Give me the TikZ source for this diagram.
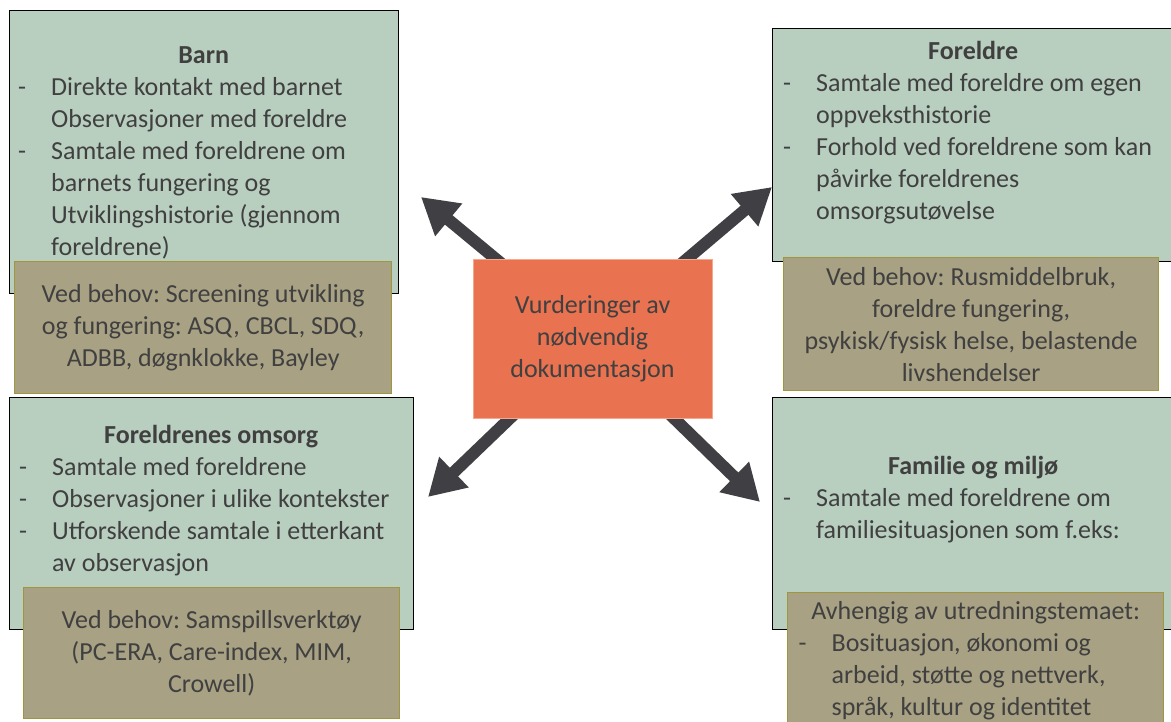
\documentclass[tikz,border=0pt]{standalone}
\usepackage{fontspec}
\setmainfont{Carlito}
\usetikzlibrary{arrows.meta}
\pgfdeclarelayer{background}
\pgfsetlayers{background,main}
\frenchspacing

\definecolor{gronn}{RGB}{184,206,191}
\definecolor{brun}{RGB}{168,161,131}
\definecolor{brunkant}{RGB}{160,150,62}
\definecolor{oransje}{RGB}{233,114,80}
\definecolor{oransjekant}{RGB}{246,168,140}
\definecolor{pilfarge}{RGB}{64,63,67}
\definecolor{tekst}{RGB}{64,64,64}

\newcommand{\tittel}[1]{{\centering\bfseries #1\par}}
\newcommand{\punkt}[1]{\par\hangindent=33pt\hangafter=1\noindent\makebox[33pt][l]{-}#1\par}

\begin{document}
\begin{tikzpicture}[
    x=1pt, y=-1pt,
    every node/.style={font=\fontsize{26}{32}\selectfont\frenchspacing, text=tekst},
    omrade/.style={rectangle, draw=black, line width=1.3pt, fill=gronn, anchor=north west, inner sep=0pt},
    liste/.style={anchor=north west, inner sep=0pt, text width=#1, align=flush left},
    behov/.style={rectangle, draw=brunkant, line width=1.3pt, fill=brun, anchor=north west, align=center},
    sentral/.style={rectangle, draw=oransjekant, line width=1pt, fill=oransje, align=center},
    arrow/.style={draw=pilfarge, line width=12pt, -{Triangle[length=36pt, width=40pt]}}
]
\clip (0,0) rectangle (1171,722);

% green boxes
\node[omrade, minimum width=389pt, minimum height=283pt] (barn) at (9,10) {};
\node[omrade, minimum width=403pt, minimum height=233pt] (foreldre) at (772,28) {};
\node[omrade, minimum width=404pt, minimum height=232pt] (omsorg) at (9,397) {};
\node[omrade, minimum width=403pt, minimum height=232pt] (familie) at (772,397) {};

% texts in green boxes
\node[liste=371pt] (barntxt) at (18,46) {\tittel{Barn}%
  \punkt{Direkte kontakt med barnet\newline Observasjoner med foreldre}%
  \punkt{Samtale med foreldrene om\newline barnets fungering og\newline Utviklingshistorie (gjennom\newline foreldrene)}};
\node[liste=380pt] (foreldretxt) at (783,41) {\tittel{Foreldre}%
  \punkt{Samtale med foreldre om egen\newline oppveksthistorie}%
  \punkt{Forhold ved foreldrene som kan\newline påvirke foreldrenes\newline omsorgsutøvelse}};
\node[liste=384pt] (omsorgtxt) at (19,425) {\tittel{Foreldrenes omsorg}%
  \punkt{Samtale med foreldrene}%
  \punkt{Observasjoner i ulike kontekster}%
  \punkt{Utforskende samtale i etterkant\newline av observasjon}};
\node[liste=380pt] (familietxt) at (783,456) {\tittel{Familie og miljø}%
  \punkt{Samtale med foreldrene om\newline familiesituasjonen som f.eks:}};

% tan boxes
\node[behov, minimum width=377pt, minimum height=132pt] (barnbehov) at (14,261)
  {Ved behov: Screening utvikling\\og fungering: ASQ, CBCL, SDQ,\\ADBB, døgnklokke, Bayley};
\node[behov, minimum width=375pt, minimum height=133pt] (foreldrebehov) at (783,257)
  {Ved behov: Rusmiddelbruk,\\foreldre fungering,\\psykisk/fysisk helse, belastende\\livshendelser};
\node[behov, minimum width=376pt, minimum height=131pt] (omsorgbehov) at (23,587)
  {Ved behov: Samspillsverktøy\\(PC-ERA, Care-index, MIM,\\Crowell)};
\node[behov, align=flush left, text width=354pt, inner xsep=11pt, inner ysep=9pt] (familiebehov) at (787,592)
  {{\centering Avhengig av utredningstemaet:\par}%
  \punkt{Bosituasjon, økonomi og\newline arbeid, støtte og nettverk,\newline språk, kultur og identitet}};

% centre
\node[sentral, minimum width=239pt, minimum height=158pt] (midt) at (592.5,339)
  {Vurderinger av\\nødvendig\\dokumentasjon};

\coordinate (tipbarn) at (421,197);
\coordinate (tipforeldre) at (772,187);
\coordinate (tipomsorg) at (428,497);
\coordinate (tipfamilie) at (760,502);

\begin{pgfonlayer}{background}
\draw[arrow] (midt.center) -- (tipbarn);
\draw[arrow] (midt.center) -- (tipforeldre);
\draw[arrow] (midt.center) -- (tipomsorg);
\draw[arrow] (midt.center) -- (tipfamilie);
\end{pgfonlayer}

\end{tikzpicture}
\end{document}
